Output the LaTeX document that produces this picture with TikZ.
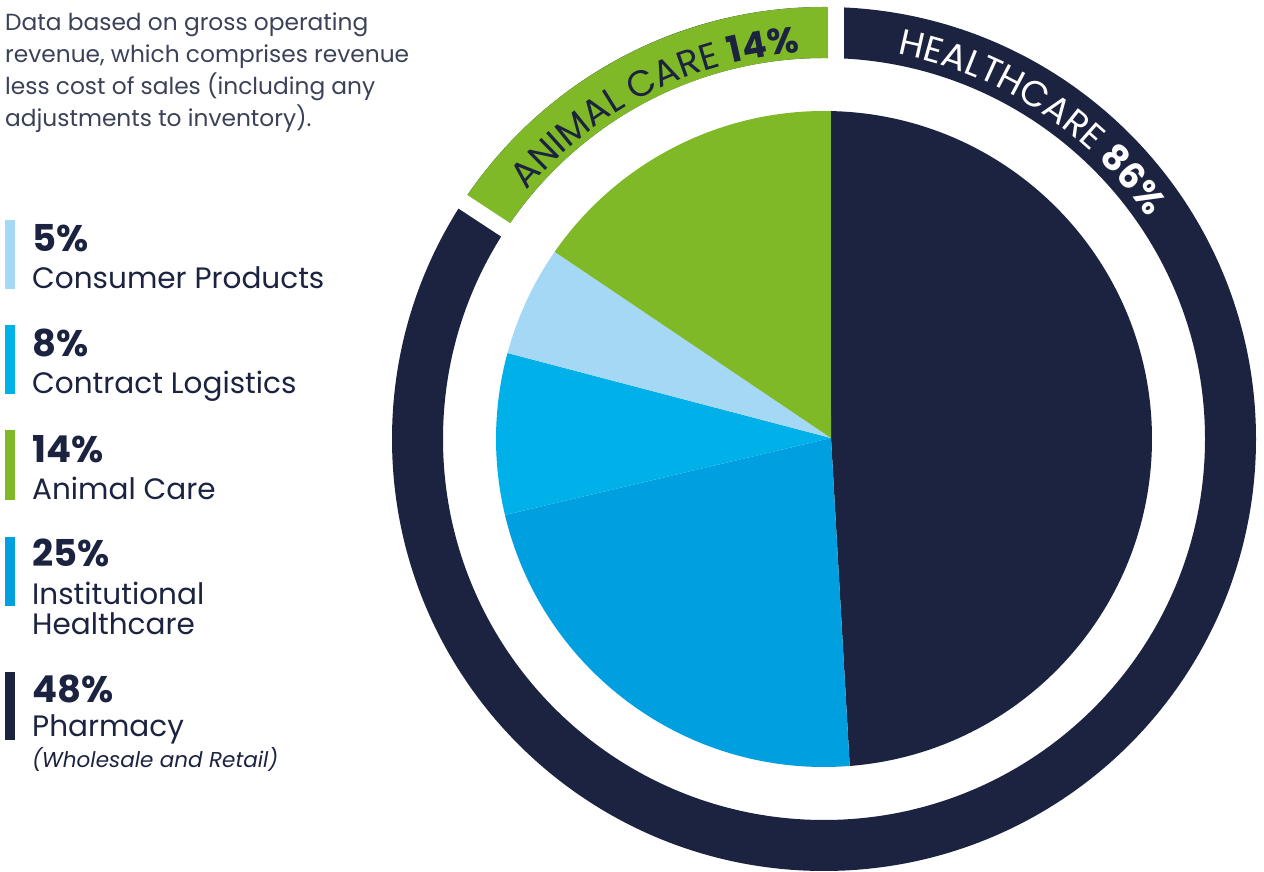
\documentclass[tikz,border=0pt]{standalone}
\usepackage{fontspec}
\setmainfont{Poppins}
\usetikzlibrary{calc,decorations.text}
\definecolor{navy}{HTML}{1B2340}
\definecolor{leaf}{HTML}{80B928}
\definecolor{paleblue}{HTML}{A4D8F5}
\definecolor{skyblue}{HTML}{00B0E9}
\definecolor{instblue}{HTML}{009FE0}
\definecolor{notegray}{HTML}{3B4258}

\begin{document}
\begin{tikzpicture}[x=1pt,y=1pt,
	pct/.style={anchor=base west,inner sep=0,text=navy,font=\fontsize{37}{37}\selectfont\bfseries},
	lbl/.style={anchor=base west,inner sep=0,text=navy,font=\fontsize{29.5}{29.5}\selectfont},
	gap/.style={white,line width=16}]
\useasboundingbox (0,0) rectangle (1264,872);
\coordinate (C) at (824,433);
\coordinate (A) at (831,434);
% pie
\foreach \a/\b/\col in {88.8/-85.5/navy,-85.5/-166.6/instblue,-166.6/-195.2/skyblue,-195.2/-214.8/paleblue,-214.8/-271.2/leaf} {
	\fill[\col] (A) -- ($(C)+(\a:328)$) arc[start angle=\a,end angle=\b,radius=328] -- cycle;
}
% ring
\fill[navy,even odd rule] (C) circle[radius=432] (C) circle[radius=381];
\fill[leaf] ($(C)+(146.7:432)$) arc[start angle=146.7,end angle=87.5,radius=432] -- ($(C)+(87.5:381)$) arc[start angle=87.5,end angle=146.7,radius=381] -- cycle;
\draw[gap] ($(C)+(146.7:370)$) -- ($(C)+(146.7:445)$);
\draw[gap] (836,800) -- (836,872);
\path[decorate,decoration={text along path,text align=left,
	text={|\color{navy}\fontsize{36.5}{36.5}\selectfont|ANIMAL CARE |\color{navy}\fontsize{36.5}{36.5}\selectfont\bfseries|14{\%}}}]
	($(C)+(140.1:387)$) arc[start angle=140.1,end angle=80,radius=387];
\path[decorate,decoration={text along path,text align=left,
	text={|\color{white}\fontsize{36}{36}\selectfont|HEALTHCARE |\color{white}\fontsize{36}{36}\selectfont\bfseries|86{\%}}}]
	($(C)+(79.2:392)$) arc[start angle=79.2,end angle=20,radius=392];
% note
\node[anchor=north west,inner sep=0,align=left,text=notegray,font=\fontsize{23.3}{32}\selectfont] (note) at (5,859)
	{Data based on gross operating\\revenue, which comprises revenue\\less cost of sales (including any\\adjustments to inventory).};
% legend
\fill[paleblue] (5,583) rectangle (15,652);
\node[pct] (p5) at (32,620) {5\%};
\node[lbl] (consumer) at (32,583) {Consumer Products};
\fill[skyblue] (5,478) rectangle (15,547);
\node[pct] (p8) at (32,515) {8\%};
\node[lbl] (logistics) at (32,478) {Contract Logistics};
\fill[leaf] (5,372) rectangle (15,442);
\node[pct] (p14) at (32,409) {14\%};
\node[lbl] (animal) at (32,372) {Animal Care};
\fill[instblue] (5,266) rectangle (15,335);
\node[pct] (p25) at (32,305) {25\%};
\node[lbl] (inst) at (32,267) {Institutional};
\node[lbl] (health) at (32,237) {Healthcare};
\fill[navy] (5,132) rectangle (15,200);
\node[pct] (p48) at (32,169) {48\%};
\node[lbl] (pharmacy) at (32,135) {Pharmacy};
\node[anchor=base west,inner sep=0,text=navy,font=\fontsize{21.5}{21.5}\selectfont\itshape] (retail) at (32,104) {(Wholesale and Retail)};
\end{tikzpicture}
\end{document}
